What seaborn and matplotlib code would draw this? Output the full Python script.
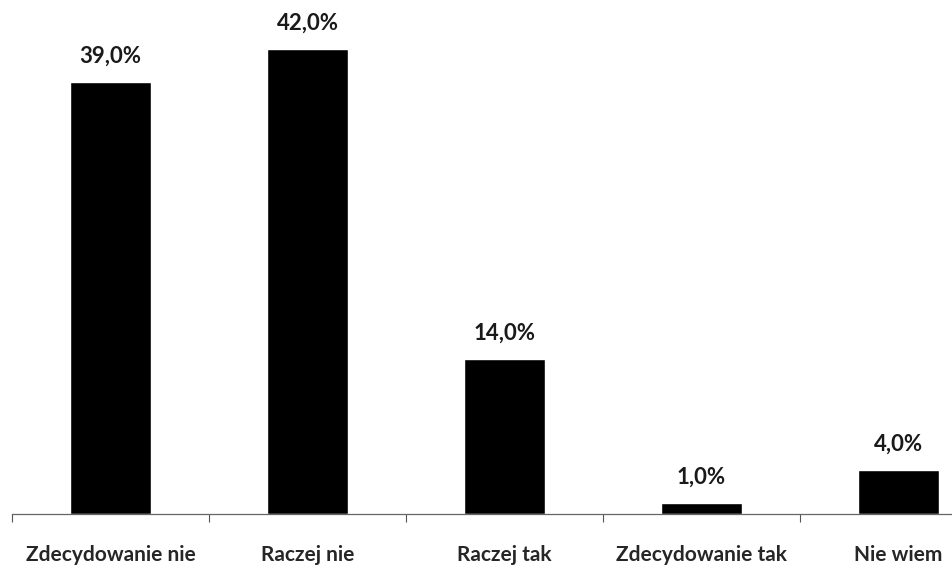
import matplotlib
matplotlib.use('Agg')
import matplotlib.pyplot as plt
import seaborn as sns
import pandas as pd

categories = ['Zdecydowanie nie', 'Raczej nie', 'Raczej tak', 'Zdecydowanie tak', 'Nie wiem']
values = [39.0, 42.0, 14.0, 1.0, 4.0]

df = pd.DataFrame({'answer': categories, 'pct': values})

sns.set_style('white')
plt.rcParams['font.family'] = ['Lato', 'DejaVu Sans']

fig = plt.figure(figsize=(9.52, 5.68), dpi=100)
# axes runs past the right edge like in the original
ax = fig.add_axes([12 / 952, 54 / 568, 985 / 952, 498 / 568])

sns.barplot(data=df, x='answer', y='pct', color='black', width=0.41,
            saturation=1, ax=ax)

ax.set_xlim(-0.5, len(categories) - 0.5)
ax.set_ylim(0, 45)

# value labels
for cont in ax.containers:
    ax.bar_label(cont, labels=[f'{v:.1f}%'.replace('.', ',') for v in values],
                 padding=11, fontsize=16, fontweight='bold', color='#1a1a1a')

# ticks between categories, labels under bars
ax.set_xticks([i - 0.5 for i in range(len(categories) + 1)], minor=True)
ax.tick_params(axis='x', which='minor', bottom=True, length=6, width=0.8,
               color='#555555', direction='out')
ax.tick_params(axis='x', which='major', length=0, pad=22, labelsize=15)
for lbl in ax.get_xticklabels():
    lbl.set_fontweight('bold')

ax.set_yticks([])
ax.set_xlabel('')
ax.set_ylabel('')
for s in ['top', 'right', 'left']:
    ax.spines[s].set_visible(False)
ax.spines['bottom'].set_color('#666666')
ax.spines['bottom'].set_linewidth(0.9)

fig.savefig('out.png', dpi=100)
